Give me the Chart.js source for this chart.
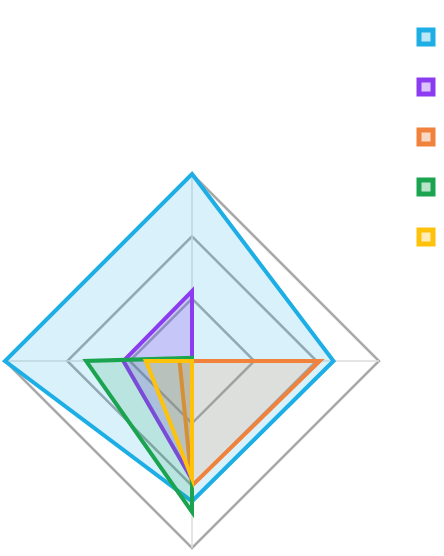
<!DOCTYPE html>
<html>
<head>
<meta charset="utf-8">
<script src="https://cdn.jsdelivr.net/npm/chart.js@4/dist/chart.umd.min.js"></script>
<style>
  html, body { margin: 0; padding: 0; background: #ffffff; }
  #wrap { width: 444px; height: 556px; }
</style>
</head>
<body>
<div id="wrap"><canvas id="c" width="444" height="556"></canvas></div>
<script>
// Categories (axes: top, right, bottom, left)
const categories = ['A', 'B', 'C', 'D'];

// Series values (scale 0..3)
const seriesBlue   = [3.0, 2.27, 2.25, 3.0];
const seriesPurple = [1.12, 0, 1.9, 1.1];
const seriesOrange = [0, 2.05, 2.0, 0.2];
const seriesGreen  = [0.05, 0, 2.42, 1.7];
const seriesYellow = [0, 0, 1.88, 0.74];

const seriesNames = ['Series 1', 'Series 2', 'Series 3', 'Series 4', 'Series 5'];
const tickValues = [0, 1, 2, 3];

const colors = ['#1daee6', '#8c3cf0', '#f0823c', '#1aa450', '#ffc20a'];
const fills = ['rgba(29,174,230,0.17)', 'rgba(140,60,240,0.24)', 'rgba(240,130,60,0.16)', 'rgba(26,164,80,0.16)', 'rgba(255,194,10,0.16)'];
const legendFills = ['rgba(29,174,230,0.3)', 'rgba(140,60,240,0.3)', 'rgba(240,130,60,0.3)', 'rgba(26,164,80,0.3)', 'rgba(255,194,10,0.3)'];
const allSeries = [seriesBlue, seriesPurple, seriesOrange, seriesGreen, seriesYellow];

const datasets = allSeries.map((d, i) => ({
  label: seriesNames[i],
  data: d,
  order: allSeries.length - i,
  borderColor: colors[i],
  backgroundColor: fills[i],
  borderWidth: 4,
  fill: true,
  pointRadius: 0,
  pointHoverRadius: 0,
  tension: 0
}));

new Chart(document.getElementById('c'), {
  type: 'radar',
  data: { labels: categories, datasets },
  options: {
    responsive: false,
    animation: false,
    devicePixelRatio: 1,
    layout: { padding: { top: -6, left: 2, right: 0, bottom: 8 } },
    plugins: {
      tooltip: { enabled: false },
      title: {
        display: true,
        text: '',
        fullSize: false,
        font: { size: 10, lineHeight: 1 },
        padding: { top: 170, bottom: 0 }
      },
      legend: {
        position: 'right',
        align: 'start',
        labels: {
          boxWidth: 14,
          boxHeight: 14,
          padding: 36,
          font: { size: 2 },
          generateLabels(chart) {
            return chart.data.datasets.map((ds, i) => ({
              text: '',
              fillStyle: legendFills[i],
              strokeStyle: ds.borderColor,
              lineWidth: 5,
              hidden: false,
              datasetIndex: i
            }));
          }
        }
      }
    },
    scales: {
      r: {
        min: tickValues[0],
        max: tickValues[tickValues.length - 1],
        ticks: { display: false, stepSize: 1 },
        pointLabels: { display: false },
        grid: { color: '#a9a9a9', lineWidth: 2.5, circular: false },
        angleLines: { color: '#dcdcdc', lineWidth: 1.5 }
      }
    }
  }
});
</script>
</body>
</html>
